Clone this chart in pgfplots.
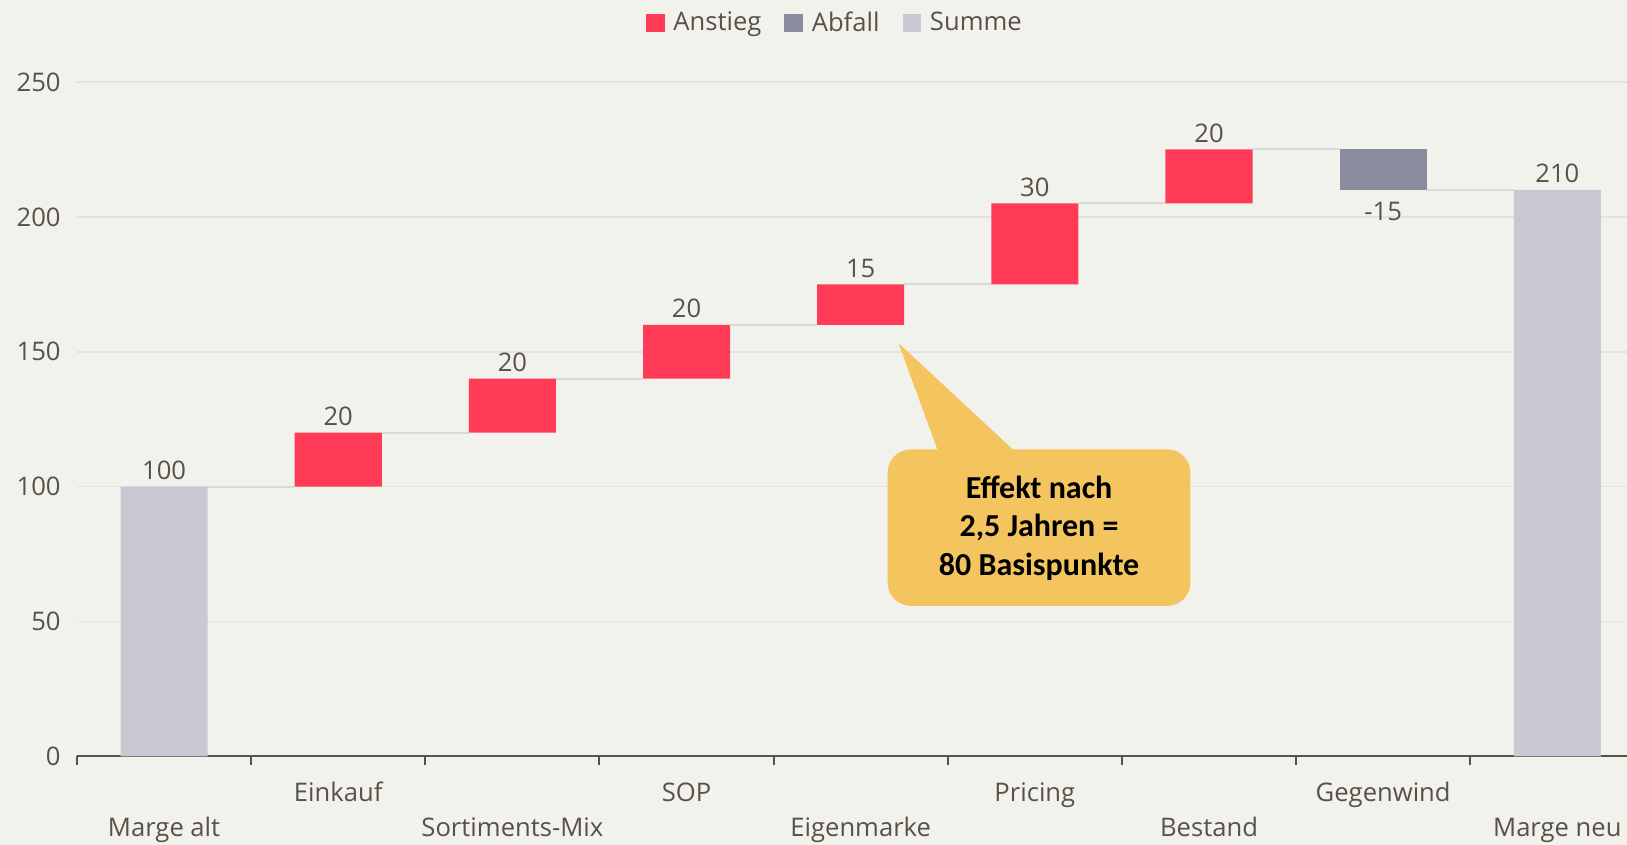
\documentclass[border=0pt]{standalone}
\usepackage{pgfplots}
\pgfplotsset{compat=1.18}
\usepackage{fontspec}
\setmainfont{Open Sans}
\newfontfamily\calloutfont{Carlito}
\definecolor{bg}{HTML}{F2F2ED}
\definecolor{anstieg}{HTML}{FF3B57}
\definecolor{abfall}{HTML}{8C8CA0}
\definecolor{summe}{HTML}{C8C8D2}
\definecolor{txt}{HTML}{595048}
\definecolor{gridc}{HTML}{E3E3DE}
\definecolor{conn}{HTML}{D9D9D6}
\definecolor{callout}{HTML}{F4C55E}
\newcommand{\lf}{\fontsize{12.8}{15}\selectfont}
\begin{document}
\begin{tikzpicture}
\fill[bg] (-38.5pt,-44.3pt) rectangle (775pt,378.2pt);
\path[use as bounding box] (-38.5pt,-44.3pt) rectangle (775pt,378.2pt);
\begin{axis}[
  at={(0,0)}, anchor=south west, scale only axis,
  width=775pt, height=337.2pt,
  xmin=-0.5, xmax=8.4, ymin=0, ymax=250,
  ybar stacked, bar width=0.5,
  axis x line*=bottom, axis y line*=left,
  y axis line style={draw=none},
  x axis line style={txt, line width=1pt},
  ytick={0,50,100,150,200,250},
  ymajorgrids=true,
  grid style={gridc, line width=0.8pt},
  major tick length=0pt,
  minor tick length=4.2pt,
  tick align=outside,
  minor xtick={-0.5,0.5,1.5,2.5,3.5,4.5,5.5,6.5,7.5},
  minor tick style={txt, line width=1pt},
  xtick={0,1,2,3,4,5,6,7,8},
  xticklabels={{\raisebox{-17.8pt}{Marge alt}},Einkauf,{\raisebox{-17.8pt}{Sortiments-Mix}},SOP,{\raisebox{-17.8pt}{Eigenmarke}},Pricing,{\raisebox{-17.8pt}{Bestand}},Gegenwind,{\raisebox{-17.8pt}{Marge neu}}},
  xticklabel style={anchor=base, yshift=-22.5pt, font=\lf, text=txt},
  yticklabel style={anchor=east, xshift=-4.7pt, font=\lf, text=txt},
  /pgf/number format/assume math mode=true,
  clip=true,
]
\addplot[draw=none, fill=none] coordinates {(0,0) (1,100) (2,120) (3,140) (4,160) (5,175) (6,205) (7,210) (8,0)};
\addplot[draw=none, fill=anstieg] coordinates {(0,0) (1,20) (2,20) (3,20) (4,15) (5,30) (6,20) (7,0) (8,0)};
\addplot[draw=none, fill=abfall] coordinates {(0,0) (1,0) (2,0) (3,0) (4,0) (5,0) (6,0) (7,15) (8,0)};
\addplot[draw=none, fill=summe] coordinates {(0,100) (1,0) (2,0) (3,0) (4,0) (5,0) (6,0) (7,0) (8,210)};
\end{axis}
\begin{axis}[
  at={(0,0)}, anchor=south west, scale only axis,
  width=775pt, height=337.2pt,
  xmin=-0.5, xmax=8.4, ymin=0, ymax=250,
  hide axis, clip=false,
  legend columns=3,
  legend style={at={(0.4896,1.0878)}, anchor=center, draw=none, fill=none,
    font=\lf, text=txt,
    /tikz/every odd column/.append style={column sep=2.5pt},
    /tikz/every even column/.append style={column sep=9.5pt}},
]
\addplot[conn, line width=1pt, unbounded coords=jump, forget plot] coordinates {
 (0.25,100) (0.75,100) (0.5,nan)
 (1.25,120) (1.75,120) (1.5,nan)
 (2.25,140) (2.75,140) (2.5,nan)
 (3.25,160) (3.75,160) (3.5,nan)
 (4.25,175) (4.75,175) (4.5,nan)
 (5.25,205) (5.75,205) (5.5,nan)
 (6.25,225) (6.75,225) (6.5,nan)
 (7.25,210) (7.75,210)};
\addplot[only marks, mark=none, forget plot, nodes near coords, point meta=explicit symbolic,
  nodes near coords style={anchor=base, yshift=3.6pt, font=\lf, text=txt}] coordinates {
 (0,100) [100] (1,120) [20] (2,140) [20] (3,160) [20] (4,175) [15] (5,205) [30] (6,225) [20] (8,210) [210]};
\addplot[only marks, mark=none, forget plot, nodes near coords, point meta=explicit symbolic,
  nodes near coords style={anchor=base, yshift=-15.1pt, font=\lf, text=txt}] coordinates {
 (7,210) [-15]};
\fill[callout, rounded corners=11.5pt] (axis cs:4.155,55.8) rectangle (axis cs:5.893,113.8);
\fill[callout] (axis cs:4.49,105) -- (axis cs:4.217,153.2) -- (axis cs:5.02,105) -- cycle;
\node[align=center, font=\calloutfont\bfseries\fontsize{16}{19.25}\selectfont, text=black] at (axis cs:5.024,84.6) {Effekt nach\\2,5 Jahren =\\80 Basispunkte};
\addlegendimage{legend image code/.code={\fill[anstieg] (0pt,-4.4pt) rectangle (8.8pt,4.4pt);}}
\addlegendentry{Anstieg}
\addlegendimage{legend image code/.code={\fill[abfall] (0pt,-4.4pt) rectangle (8.8pt,4.4pt);}}
\addlegendentry{Abfall}
\addlegendimage{legend image code/.code={\fill[summe] (0pt,-4.4pt) rectangle (8.8pt,4.4pt);}}
\addlegendentry{Summe}
\end{axis}
\end{tikzpicture}
\end{document}
